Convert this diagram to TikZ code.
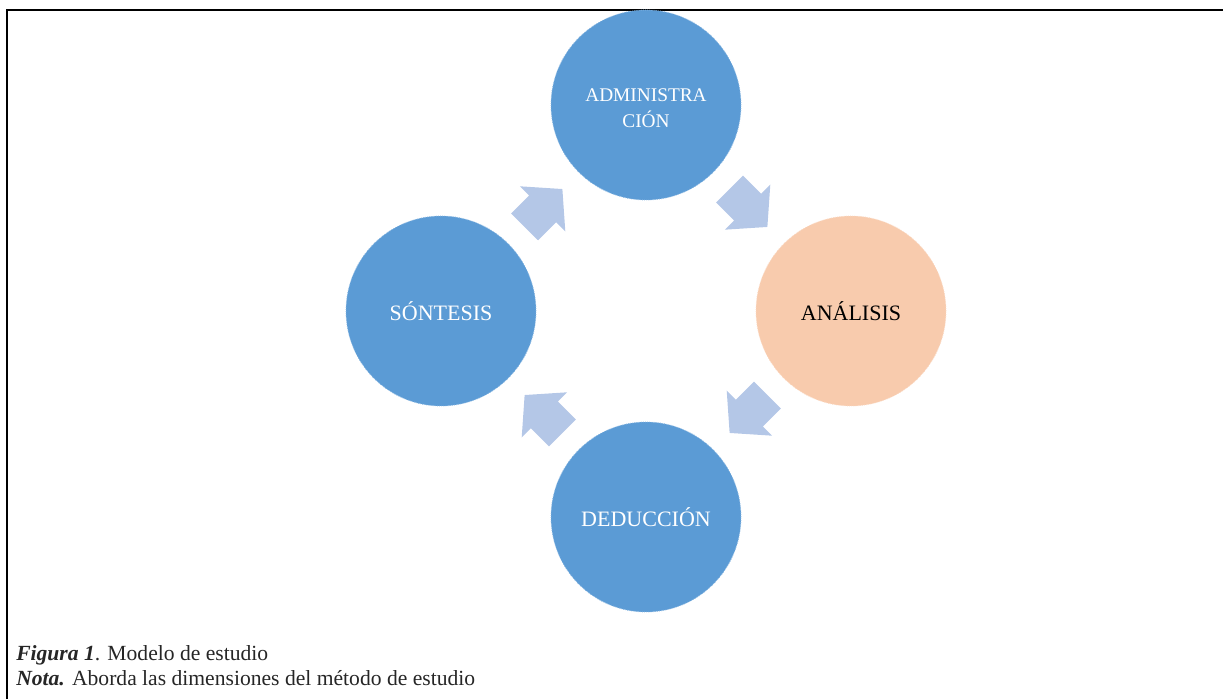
\documentclass[tikz,border=0pt]{standalone}
\usepackage{fontspec}
\setmainfont{Liberation Serif}
\definecolor{circblue}{HTML}{5B9BD5}
\definecolor{circpeach}{HTML}{F8CBAD}
\definecolor{arrowc}{HTML}{B4C7E7}
\definecolor{captc}{HTML}{262626}
\tikzset{
  stage/.style={circle, fill=circblue, draw=circblue!70!white, densely dotted, line width=0.6pt,
    minimum size=142.5pt, inner sep=0pt, text=white, align=center,
    font=\fontsize{16.5}{19.5}\selectfont},
  blockarrow/.pic={\fill[arrowc] (-26.75,19) -- (-1.25,19) -- (-1.25,32) -- (26.75,0) -- (-1.25,-32) -- (-1.25,-19) -- (-26.75,-19) -- cycle;},
  captext/.style={anchor=base west, inner sep=0pt, text=captc, font=\fontsize{16.2}{19}\selectfont}
}
\begin{document}
\begin{tikzpicture}[x=0.75pt,y=0.75pt]
\useasboundingbox (0,0) rectangle (1223,699);
\draw[line width=1.5pt] (7,0) -- (7,689) -- (1223,689);
\node[stage] (admin) at (646,594) {};
\node[text=white, align=center, font=\fontsize{14.5}{19.5}\selectfont] (admintext) at (646,591) {ADMINISTRA\\CIÓN};
\node[stage, fill=circpeach, draw=circpeach!70!white, text=black] (anal) at (851,388) {ANÁLISIS};
\node[stage] (ded) at (646,182) {DEDUCCIÓN};
\node[stage] (sint) at (441,388) {SÓNTESIS};
\path[allow upside down] (admin) -- (anal) pic[midway, sloped] {blockarrow};
\path[allow upside down] (anal) -- (ded) pic[midway, sloped] {blockarrow};
\path[allow upside down] (ded) -- (sint) pic[midway, sloped] {blockarrow};
\path[allow upside down] (sint) -- (admin) pic[midway, sloped] {blockarrow};
\node[captext] (cap1) at (16,38) {\textbf{\textit{Figura 1}}. Modelo de estudio};
\node[captext] (cap2) at (16,13) {\textbf{\textit{Nota.}} Aborda las dimensiones del método de estudio};
\end{tikzpicture}
\end{document}
